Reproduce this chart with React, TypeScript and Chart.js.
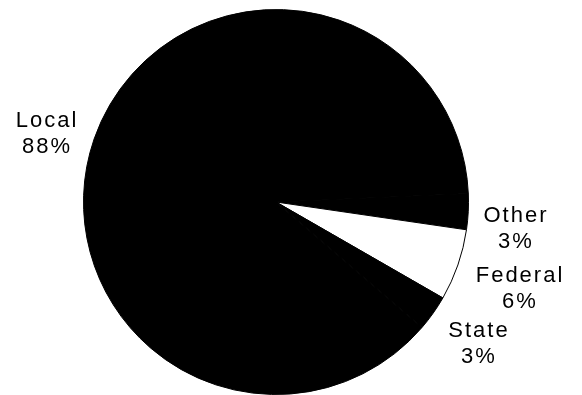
import React, { useEffect, useRef } from "react";
import { Chart, registerables } from "chart.js";

Chart.register(...registerables);

const categories = ["Other", "Federal", "State", "Local"];
const shares = [3, 6, 3, 88];
const sliceColors = ["#000000", "#ffffff", "#000000", "#000000"];
const labelLines = [
  ["Other", "3%"],
  ["Federal", "6%"],
  ["State", "3%"],
  ["Local", "88%"],
];
// label anchor offsets from pie centre (x centre, first-line baseline)
const labelOffsets = [
  [239, 20],
  [243, 80],
  [202, 135],
  [-230, -75],
];

const labelPlugin = {
  id: "sliceLabels",
  afterDraw(chart: any) {
    const ctx = chart.ctx;
    const meta = chart.getDatasetMeta(0);
    if (!meta.data.length) return;
    const arc = meta.data[0];
    const cx = arc.x;
    const cy = arc.y;
    ctx.save();
    ctx.fillStyle = "#000";
    ctx.font = "22px 'Liberation Sans', Arial, sans-serif";
    ctx.textAlign = "center";
    ctx.textBaseline = "alphabetic";
    try {
      (ctx as any).letterSpacing = "2px";
    } catch (e) {}
    labelLines.forEach((lines, i) => {
      const [dx, dy] = labelOffsets[i];
      lines.forEach((t, j) => {
        ctx.fillText(t, cx + dx + 1, cy + dy + j * 26);
      });
    });
    ctx.restore();
  },
};

export default function App() {
  const ref = useRef<HTMLCanvasElement | null>(null);
  useEffect(() => {
    document.body.style.margin = "0";
    const canvas = ref.current;
    if (!canvas) return;
    const chart = new Chart(canvas, {
      type: "pie",
      data: {
        labels: categories,
        datasets: [
          {
            data: shares,
            backgroundColor: sliceColors,
            borderColor: "#000000",
            borderWidth: 1,
          },
        ],
      },
      options: {
        responsive: false,
        animation: false,
        rotation: 87.5,
        layout: { padding: { left: 83, right: 113, top: 9, bottom: 0 } },
        plugins: {
          legend: { display: false },
          tooltip: { enabled: false },
        },
      },
      plugins: [labelPlugin],
    });
    return () => chart.destroy();
  }, []);
  return (
    <div style={{ position: "fixed", left: 0, top: 0, width: 582, height: 395, background: "#fff" }}>
      <canvas ref={ref} width={582} height={395} style={{ width: 582, height: 395 }} />
    </div>
  );
}
